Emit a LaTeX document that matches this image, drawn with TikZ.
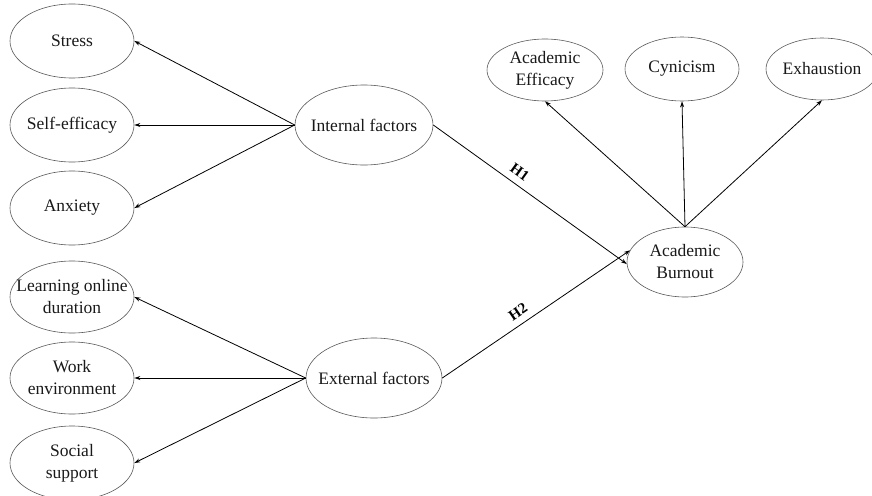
\documentclass[tikz,border=0pt]{standalone}
\usepackage{fontspec}
\setmainfont{Liberation Serif}
\usetikzlibrary{shapes.geometric,arrows.meta}
\begin{document}
\begin{tikzpicture}[x=1pt,y=-1pt,
  ell/.style={ellipse,draw=black!65,line width=0.6pt,inner sep=0pt},
  txt/.style={inner sep=0pt,align=center,font=\fontsize{17.5}{22}\selectfont,text=black!90},
  arr/.style={line width=0.8pt,-{Stealth[length=6pt,width=4pt]}},
  hlab/.style={font=\bfseries\fontsize{15}{18}\selectfont,sloped,above=7pt,inner sep=0pt}]
\useasboundingbox (0,0) rectangle (872,495);
\node[ell,minimum width=124pt,minimum height=74pt] (stress) at (72,41) {};
\node[txt] (stress-t) at (stress) {Stress};
\node[ell,minimum width=124pt,minimum height=74pt] (self) at (72,125) {};
\node[txt] (self-t) at (self) {Self-efficacy};
\node[ell,minimum width=124pt,minimum height=74pt] (anx) at (72,208) {};
\node[txt] (anx-t) at (anx) {Anxiety};
\node[ell,minimum width=124pt,minimum height=72pt] (learn) at (72,297) {};
\node[txt] (learn-t) at (learn) {Learning online\\duration};
\node[ell,minimum width=124pt,minimum height=72pt] (work) at (72,378) {};
\node[txt] (work-t) at (work) {Work\\environment};
\node[ell,minimum width=124pt,minimum height=74pt] (soc) at (72,463) {};
\node[txt] (soc-t) at (soc) {Social\\support};
\node[ell,minimum width=138pt,minimum height=80pt] (int) at (364,125) {};
\node[txt] (int-t) at (int) {Internal factors};
\node[ell,minimum width=136pt,minimum height=80pt] (ext) at (374,378) {};
\node[txt] (ext-t) at (ext) {External factors};
\node[ell,minimum width=116pt,minimum height=70pt] (burn) at (685,262) {};
\node[txt] (burn-t) at (burn) {Academic\\Burnout};
\node[ell,minimum width=116pt,minimum height=62pt] (eff) at (545,70) {};
\node[txt] (eff-t) at (eff) {Academic\\Efficacy};
\node[ell,minimum width=114pt,minimum height=64pt] (cyn) at (682,69) {};
\node[txt] (cyn-t) at (cyn) {Cynicism};
\node[ell,minimum width=112pt,minimum height=62pt] (exh) at (822,69) {};
\node[txt] (exh-t) at (exh) {Exhaustion};
\draw[arr] (int.west) -- (stress.east);
\draw[arr] (int.west) -- (self.east);
\draw[arr] (int.west) -- (anx.east);
\draw[arr] (ext.west) -- (learn.east);
\draw[arr] (ext.west) -- (work.east);
\draw[arr] (ext.west) -- (soc.east);
\draw[arr] (int.east) -- node[hlab,pos=0.41] (h1) {H1} (burn.182);
\draw[arr] (ext.east) -- node[hlab,pos=0.44] (h2) {H2} (burn.168);
\draw[arr] (burn.north) -- (eff.south);
\draw[arr] (burn.north) -- (cyn.south);
\draw[arr] (burn.north) -- (exh.south);
\end{tikzpicture}
\end{document}
